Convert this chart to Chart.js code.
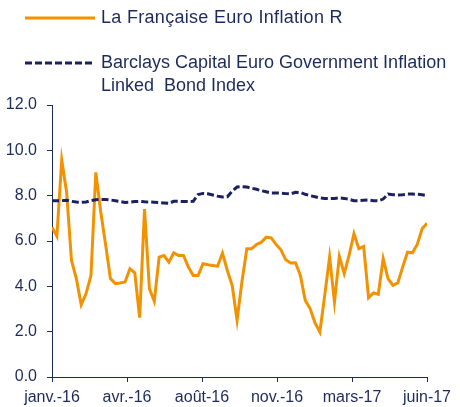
<!DOCTYPE html>
<html>
<head>
<meta charset="utf-8">
<script src="https://cdn.jsdelivr.net/npm/chart.js@4"></script>
<style>
  html, body { margin: 0; padding: 0; background: #fff; }
  #wrap { position: relative; width: 460px; height: 407px; }
  .leg { position: absolute; font-family: "Liberation Sans", Arial, sans-serif; font-size: 18px; color: #1d2a5c; line-height: 23px; white-space: nowrap; }
  .leg svg { position: absolute; }
</style>
</head>
<body>
<div id="wrap">
  <canvas id="chart" width="460" height="407"></canvas>
  <div class="leg" style="left:25px; top:6px;">
    <svg width="70" height="4" style="left:0; top:10px;"><line x1="0" y1="2" x2="70" y2="2" stroke="#f39200" stroke-width="3"/></svg>
    <span style="margin-left:76px; letter-spacing:0.3px;">La Française Euro Inflation R</span>
  </div>
  <div class="leg" style="left:25px; top:51px;">
    <svg width="70" height="4" style="left:0; top:10px;"><line x1="0" y1="2" x2="70" y2="2" stroke="#1b2160" stroke-width="3" stroke-dasharray="7 3"/></svg>
    <div style="margin-left:76px;">Barclays Capital Euro Government Inflation<br>Linked&nbsp; Bond Index</div>
  </div>
</div>
<script>
// libellés de l'axe des x (positionnés à intervalles égaux)
const tickLabels = ['janv.-16', 'avr.-16', 'août-16', 'nov.-16', 'mars-17', 'juin-17'];

// La Française Euro Inflation R (valeurs hebdomadaires)
const fundValues = [
    6.61, 6.21, 9.57, 8.15, 5.14, 4.34, 3.19, 3.68, 4.48, 9.03,
    7.3, 5.85, 4.34, 4.12, 4.15, 4.19, 4.78, 4.6, 2.62, 7.41,
    3.9, 3.34, 5.29, 5.36, 5.07, 5.48, 5.36, 5.36, 4.85, 4.48,
    4.48, 5.0, 4.95, 4.92, 4.89, 5.47, 4.7, 4.04, 2.51, 4.2,
    5.66, 5.66, 5.85, 5.95, 6.17, 6.14, 5.85, 5.61, 5.17, 5.03,
    5.04, 4.48, 3.38, 3.02, 2.39, 1.99, 3.6, 5.29, 3.31, 5.32,
    4.56, 5.36, 6.32, 5.66, 5.76, 3.5, 3.71, 3.65, 5.22, 4.34,
    4.04, 4.15, 4.85, 5.51, 5.48, 5.85, 6.54, 6.78
];

// Barclays Capital Euro Government Inflation Linked Bond Index
const indexValues = [
    7.78, 7.78, 7.78, 7.8, 7.75, 7.72, 7.71, 7.72, 7.78, 7.82,
    7.83, 7.83, 7.81, 7.78, 7.74, 7.7, 7.71, 7.74, 7.75, 7.73,
    7.72, 7.71, 7.7, 7.68, 7.66, 7.75, 7.75, 7.74, 7.74, 7.75,
    8.05, 8.1, 8.08, 8.03, 7.98, 7.94, 7.95, 8.2, 8.38, 8.4,
    8.38, 8.33, 8.28, 8.22, 8.17, 8.12, 8.12, 8.11, 8.09, 8.08,
    8.15, 8.14, 8.06, 8.0, 7.95, 7.9, 7.88, 7.88, 7.88, 7.9,
    7.88, 7.84, 7.78, 7.78, 7.8, 7.81, 7.78, 7.77, 7.85, 8.07,
    8.04, 8.03, 8.04, 8.07, 8.07, 8.06, 8.04, 8.0
];

const navy = '#1d2a5c';
const lastIndex = fundValues.length - 1;

Chart.defaults.font.family = '"Liberation Sans", Arial, sans-serif';
Chart.defaults.font.size = 16;
Chart.defaults.color = navy;

const config = {
    type: 'line',
    data: {
        datasets: [
            {
                label: 'Barclays Capital Euro Government Inflation Linked Bond Index',
                data: indexValues.map((v, i) => ({ x: i, y: v })),
                borderColor: '#1b2160',
                borderWidth: 3,
                borderDash: [7, 3],
                pointRadius: 0,
                fill: false,
            },
            {
                label: 'La Française Euro Inflation R',
                data: fundValues.map((v, i) => ({ x: i, y: v })),
                borderColor: '#f39200',
                borderWidth: 3,
                pointRadius: 0,
                fill: false,
            }
        ]
    },
    options: {
        responsive: false,
        animation: false,
        layout: {
            padding: { top: 105, right: 33, left: 0, bottom: 0 }
        },
        plugins: {
            legend: { display: false },
            tooltip: { enabled: false }
        },
        scales: {
            x: {
                type: 'linear',
                min: 0,
                max: lastIndex,
                afterBuildTicks: (scale) => {
                    scale.ticks = tickLabels.map((t, i) => ({ value: i * lastIndex / (tickLabels.length - 1) }));
                },
                afterFit: (scale) => { scale.height = 30; },
                ticks: {
                    autoSkip: false,
                    maxRotation: 0,
                    padding: 6,
                    callback: (value, index) => tickLabels[index]
                },
                grid: { drawOnChartArea: false, drawTicks: true, tickLength: 5, color: navy },
                border: { color: navy, width: 1 }
            },
            y: {
                min: 0,
                max: 12,
                afterFit: (scale) => { scale.width = 52; },
                ticks: {
                    stepSize: 2,
                    padding: 10,
                    callback: (value) => value.toFixed(1)
                },
                grid: { drawOnChartArea: false, drawTicks: true, tickLength: 5, color: navy },
                border: { color: navy, width: 1 }
            }
        }
    }
};

const chart = new Chart(document.getElementById('chart'), config);
</script>
</body>
</html>
